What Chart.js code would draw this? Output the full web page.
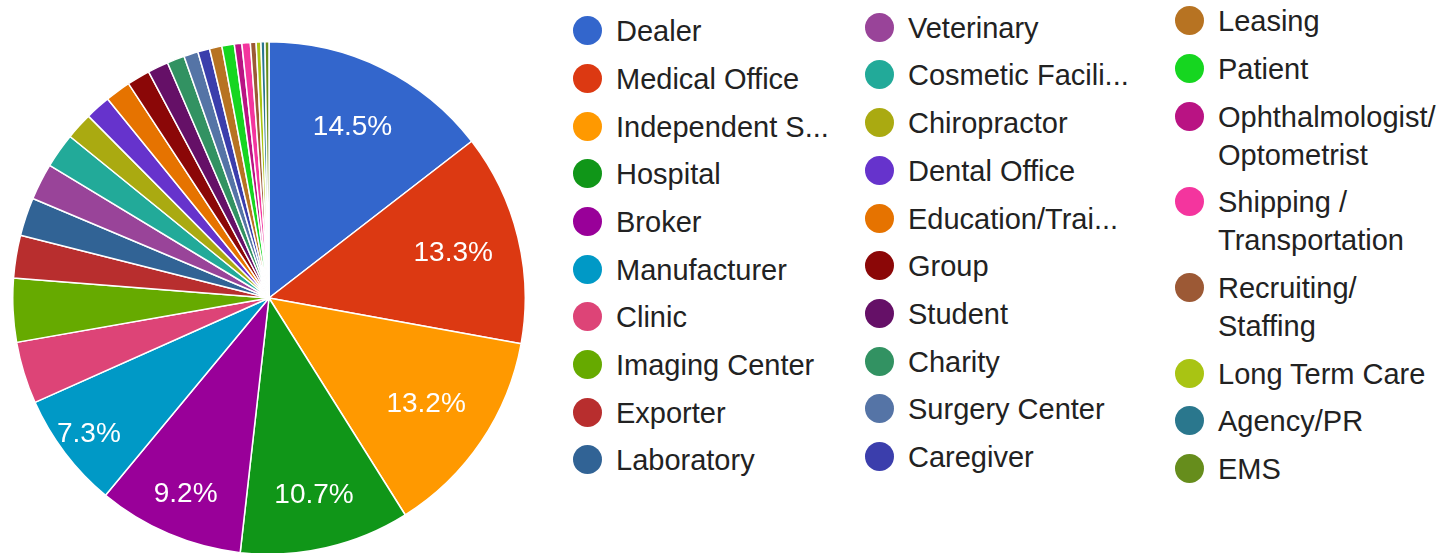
<!DOCTYPE html>
<html>
<head>
<meta charset="utf-8">
<script src="https://cdn.jsdelivr.net/npm/chart.js@4.4.1/dist/chart.umd.min.js"></script>
<style>
  html, body { margin: 0; padding: 0; width: 1443px; height: 553px; overflow: hidden; background: #fff; }
  #pieWrap { position: absolute; left: 12px; top: 41px; width: 514px; height: 514px; }
  .legend-col { position: absolute; font-family: "Liberation Sans", Arial, sans-serif; font-size: 29px; color: #222; }
  .legend-item { position: relative; line-height: 38px; margin-bottom: 9.7px; white-space: pre-line; }
  .legend-dot { position: absolute; left: -43px; top: 4px; width: 29px; height: 29px; border-radius: 50%; }
</style>
</head>
<body>
<div id="pieWrap"><canvas id="pieChart"></canvas></div>
<div id="legend"></div>
<script>
const categories = [
  'Dealer', 'Medical Office', 'Independent S...', 'Hospital', 'Broker', 'Manufacturer',
  'Clinic', 'Imaging Center', 'Exporter', 'Laboratory',
  'Veterinary', 'Cosmetic Facili...', 'Chiropractor', 'Dental Office', 'Education/Trai...',
  'Group', 'Student', 'Charity', 'Surgery Center', 'Caregiver',
  'Leasing', 'Patient', 'Ophthalmologist/\nOptometrist', 'Shipping /\nTransportation',
  'Recruiting/\nStaffing', 'Long Term Care', 'Agency/PR', 'EMS'
];

const shares = [
  14.5, 13.3, 13.2, 10.7, 9.2, 7.3,
  3.9, 4.0, 2.7, 2.4,
  2.3, 2.2, 1.7, 1.6, 1.6,
  1.45, 1.3, 1.1, 0.9, 0.75,
  0.78, 0.78, 0.47, 0.53,
  0.36, 0.3, 0.25, 0.25
];

const sliceColors = [
  '#3366cc', '#dc3912', '#ff9900', '#109618', '#990099', '#0099c6',
  '#dd4477', '#66aa00', '#b82e2e', '#316395',
  '#994499', '#22aa99', '#aaaa11', '#6633cc', '#e67300',
  '#8b0707', '#651067', '#329262', '#5574a6', '#3b3eac',
  '#b77322', '#16d620', '#b91383', '#f4359e',
  '#9c5935', '#a9c413', '#2a778d', '#668d1c'
];

// legend columns: first item index, text left, top
const legendCols = [
  { from: 0, to: 10, left: 616, top: 12.3 },
  { from: 10, to: 20, left: 908, top: 8.8 },
  { from: 20, to: 28, left: 1218, top: 2.3 }
];

const total = shares.reduce((a, b) => a + b, 0);

const sliceLabels = {
  id: 'sliceLabels',
  afterDatasetsDraw(chart) {
    const ctx = chart.ctx;
    const meta = chart.getDatasetMeta(0);
    ctx.save();
    ctx.fillStyle = '#fff';
    ctx.font = '28px "Liberation Sans", Arial, sans-serif';
    ctx.textAlign = 'center';
    ctx.textBaseline = 'middle';
    meta.data.forEach((arc, i) => {
      const pct = shares[i] / total * 100;
      if (pct < 7) return;
      const p = arc.getProps(['x', 'y', 'startAngle', 'endAngle', 'outerRadius'], true);
      const span = (p.endAngle - p.startAngle) * 180 / Math.PI;
      const mid = (p.startAngle + p.endAngle) / 2;
      const r = p.outerRadius * Math.max(0.74, 1.08 - 0.0075 * span);
      ctx.fillText(pct.toFixed(1) + '%', p.x + Math.cos(mid) * r, p.y + Math.sin(mid) * r);
    });
    ctx.restore();
  }
};

const pieChart = new Chart(document.getElementById('pieChart').getContext('2d'), {
  type: 'pie',
  data: {
    labels: categories,
    datasets: [{
      data: shares,
      backgroundColor: sliceColors,
      borderColor: '#fff',
      borderWidth: 1.5
    }]
  },
  options: {
    responsive: true,
    maintainAspectRatio: false,
    animation: false,
    layout: { padding: 0 },
    plugins: {
      legend: { display: false },
      tooltip: { enabled: false }
    }
  },
  plugins: [sliceLabels]
});

function buildLegend() {
  const box = document.getElementById('legend');
  legendCols.forEach(col => {
    const div = document.createElement('div');
    div.className = 'legend-col';
    div.style.left = col.left + 'px';
    div.style.top = col.top + 'px';
    for (let i = col.from; i < col.to; i++) {
      const item = document.createElement('div');
      item.className = 'legend-item';
      item.innerHTML = `<span class="legend-dot" style="background:${sliceColors[i]}"></span>`;
      item.appendChild(document.createTextNode(categories[i]));
      div.appendChild(item);
    }
    box.appendChild(div);
  });
}

buildLegend();
</script>
</body>
</html>
